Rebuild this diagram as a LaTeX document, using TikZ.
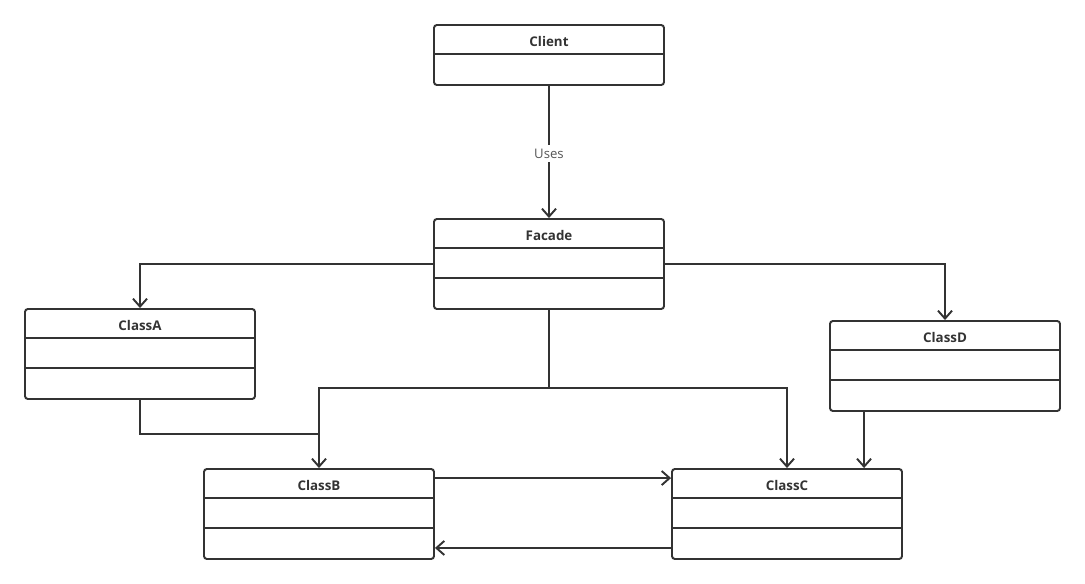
\documentclass[tikz,border=0pt]{standalone}
\usepackage{fontspec}
\setmainfont{Open Sans}
\usetikzlibrary{arrows.meta, positioning, calc}
\definecolor{umlline}{HTML}{333333}
\definecolor{umllabel}{HTML}{555555}

\begin{document}
\begin{tikzpicture}[
    x=0.02cm, y=-0.02cm,
    classbox/.style={rectangle, draw=umlline, line width=1.1pt, rounded corners=1.6pt, minimum width=4.6cm, minimum height=1.8cm, inner sep=0pt},
    classtitle/.style={font=\fontsize{7.6}{9}\selectfont\bfseries, text=umlline, inner sep=0pt},
    sepline/.style={draw=umlline, line width=1.1pt},
    link/.style={draw=umlline, line width=1.1pt, -{Straight Barb[length=4.5pt, width=8pt, line width=1.1pt]}},
    plainlink/.style={draw=umlline, line width=1.1pt},
    uselabel/.style={fill=white, text=umllabel, font=\fontsize{7.5}{9}\selectfont, inner sep=2pt, yshift=-0.03cm}
]
\useasboundingbox (0,0) rectangle (1085,584);

\node[classbox, minimum height=1.2cm] (client) at (549,55) {};
\node[classbox] (facade) at (549,264) {};
\node[classbox] (classA) at (140,354) {};
\node[classbox] (classD) at (945,366) {};
\node[classbox] (classB) at (319,514) {};
\node[classbox] (classC) at (787,514) {};

\foreach \n/\t in {client/Client, facade/Facade, classA/ClassA, classB/ClassB, classC/ClassC, classD/ClassD}
    \node[classtitle] (\n-title) at ([yshift=-0.35cm]\n.north) {\t};

\draw[sepline] ([yshift=-0.6cm]client.north west) -- ([yshift=-0.6cm]client.north east);
\foreach \n in {facade, classA, classB, classC, classD} {
    \draw[sepline] ([yshift=-0.6cm]\n.north west) -- ([yshift=-0.6cm]\n.north east);
    \draw[sepline] ([yshift=-1.2cm]\n.north west) -- ([yshift=-1.2cm]\n.north east);
}

\coordinate (split) at (549,388);
\coordinate (joinB) at (319,434);
\path ([xshift=0.7cm]classD.south west) coordinate (dOut);

\draw[link] (client) -- node[uselabel] {Uses} (facade);
\draw[link] (facade.west) -| (classA.north);
\draw[link] (facade.east) -| (classD.north);
\draw[plainlink] (facade.south) -- (split);
\draw[link] (split) -| (classB.north);
\draw[link] (split) -| (classC.north);
\draw[plainlink] (classA.south) |- (joinB);
\draw[link] (dOut) -- (dOut |- classC.north);
\draw[link] ([yshift=-0.2cm]classB.north east) -- ([yshift=-0.2cm]classC.north west);
\draw[link] ([yshift=0.24cm]classC.south west) -- ([yshift=0.24cm]classB.south east);

\end{tikzpicture}
\end{document}
